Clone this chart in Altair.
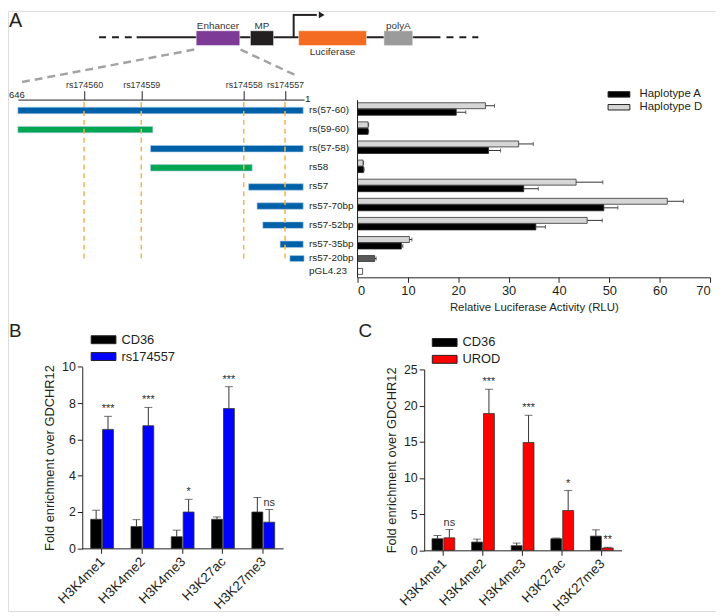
import altair as alt
import pandas as pd

W, H = 715, 606
MARGIN = 8
FONT = "Liberation Sans"
INK = "#231F20"


def px(v):
    return v - MARGIN


# ---------------- data ----------------
# Panel A: reporter construct (map units 0-100)
construct_names = ["Enhancer", "MP", "Luciferase", "polyA"]
construct_start = [25.6, 39.9, 52.6, 75.1]
construct_end = [37.1, 46.0, 70.5, 82.7]
construct_fill = ["#7D3A96", "#231F20", "#F36C21", "#9B9B9B"]
backbone_start = [9.9]
backbone_end = [90.0]
backbone_dash_start = [0.0, 91.6]
backbone_dash_end = [9.3, 100.0]
tss_pos = [51.3]
tss_arrow_end = [57.4]
tss_arrow_head = [58.7]
zoom_from = [25.1, 37.3]
zoom_to = [-20.6, 52.7]

# Panel A: enhancer fragments (bp, 646 -> 1)
fragments = ["rs(57-60)", "rs(59-60)", "rs(57-58)", "rs58", "rs57",
             "rs57-70bp", "rs57-52bp", "rs57-35bp"]
controls = ["rs57-20bp", "pGL4.23"]
frag_start = [646, 646, 347, 347, 126, 107, 94, 55]
frag_end = [3, 342, 3, 118, 3, 3, 3, 3]
frag_kind = ["rs174557", "no rs174557", "rs174557", "no rs174557",
             "rs174557", "rs174557", "rs174557", "rs174557"]
ctrl_frag_start = [33]
ctrl_frag_end = [1]
snp_names = ["rs174560", "rs174559", "rs174558", "rs174557"]
snp_pos = [497, 368, 137, 44]

# Panel A: luciferase activity
hapA = [19.6, 2.1, 26.0, 1.2, 33.0, 48.9, 35.4, 8.7]
hapA_err = [1.9, 0.1, 2.4, 0.1, 2.9, 2.8, 1.9, 0.3]
hapD = [25.4, 2.1, 32.0, 1.1, 43.4, 61.5, 45.6, 10.3]
hapD_err = [1.8, 0.1, 2.9, 0.1, 5.3, 3.2, 3.0, 0.5]
ctrl_val = [3.4, 1.0]
ctrl_err = [0.3, 0.0]

# Panels B / C: ChIP
histone = ["H3K4me1", "H3K4me2", "H3K4me3", "H3K27ac", "H3K27me3"]
b_cd36 = [1.6, 1.2, 0.64, 1.6, 2.0]
b_cd36_err = [0.5, 0.38, 0.36, 0.13, 0.8]
b_rs = [6.55, 6.75, 2.0, 7.7, 1.44]
b_rs_err = [0.72, 1.01, 0.7, 1.2, 0.7]
b_sig = ["***", "***", "*", "***", "ns"]
c_cd36 = [1.6, 1.14, 0.64, 1.6, 1.96]
c_cd36_err = [0.45, 0.41, 0.36, 0.1, 0.87]
c_urod = [1.73, 18.9, 14.9, 5.5, 0.32]
c_urod_err = [1.14, 3.36, 3.76, 2.76, 0.1]
c_sig = ["ns", "***", "***", "*", "**"]

# ---------------- helpers ----------------
layers = []


def rect_path(w, h):
    a = w / h
    return f"M{-a},-1L{a},-1L{a},1L{-a},1Z"


def letter(t, x, y, size):
    return alt.Chart(pd.DataFrame({"t": [t]})).mark_text(
        align="left", baseline="alphabetic", fontSize=size, font=FONT, color=INK
    ).encode(x=alt.value(px(x)), y=alt.value(px(y)), text="t:N")


layers += [letter("A", 9, 24, 20), letter("B", 9, 337, 19), letter("C", 362, 337, 19)]

# ---------------- construct ----------------
cx = lambda: alt.Scale(domain=[0, 100], range=[px(100), px(483)], nice=False, zero=False)
cons = pd.DataFrame({"name": construct_names, "s": construct_start, "e": construct_end})
cons["mid"] = (cons.s + cons.e) / 2

layers.append(alt.Chart(pd.DataFrame({"s": backbone_start, "e": backbone_end})).mark_rule(
    strokeWidth=2, color=INK).encode(
    x=alt.X("s:Q", scale=cx(), axis=None), x2="e:Q", y=alt.value(px(34.5))))
layers.append(alt.Chart(pd.DataFrame({"s": backbone_dash_start, "e": backbone_dash_end})).mark_rule(
    strokeWidth=2, color=INK, strokeDash=[7, 6]).encode(
    x=alt.X("s:Q", scale=cx(), axis=None), x2="e:Q", y=alt.value(px(34.5))))
layers.append(alt.Chart(cons).mark_rect(stroke="#ffffff", strokeWidth=0.5).encode(
    x=alt.X("s:Q", scale=cx(), axis=None), x2="e:Q",
    y=alt.value(px(28)), y2=alt.value(px(43)),
    color=alt.Color("name:N", scale=alt.Scale(domain=construct_names, range=construct_fill), legend=None)))
layers.append(alt.Chart(cons[cons.name != "Luciferase"]).mark_text(
    fontSize=10, font=FONT, color="#333333", baseline="middle").encode(
    x=alt.X("mid:Q", scale=cx(), axis=None), y=alt.value(px(23)), text="name:N"))
layers.append(alt.Chart(cons[cons.name == "Luciferase"]).mark_text(
    fontSize=10, font=FONT, color="#333333", baseline="middle").encode(
    x=alt.X("mid:Q", scale=cx(), axis=None), y=alt.value(px(49)), text="name:N"))
# transcription start arrow
tss = pd.DataFrame({"p": tss_pos, "e": tss_arrow_end, "h": tss_arrow_head})
layers.append(alt.Chart(tss).mark_rule(strokeWidth=2, color=INK).encode(
    x=alt.X("p:Q", scale=cx(), axis=None), y=alt.value(px(35)), y2=alt.value(px(11))))
layers.append(alt.Chart(tss).mark_rule(strokeWidth=2, color=INK).encode(
    x=alt.X("p:Q", scale=cx(), axis=None), x2="e:Q", y=alt.value(px(12))))
layers.append(alt.Chart(tss).mark_point(shape="triangle-right", filled=True, size=45, color=INK, opacity=1).encode(
    x=alt.X("h:Q", scale=cx(), axis=None), y=alt.value(px(12))))
# zoom lines
for f, t, y2 in zip(zoom_from, zoom_to, [80, 74.5]):
    layers.append(alt.Chart(pd.DataFrame({"f": [f], "t": [t]})).mark_rule(
        strokeWidth=2.5, color="#A3A3A3", strokeDash=[8, 5]).encode(
        x=alt.X("f:Q", scale=cx(), axis=None), x2="t:Q",
        y=alt.value(px(47)), y2=alt.value(px(y2))))

# ---------------- fragment diagram ----------------
bpx = lambda: alt.Scale(domain=[646, 1], range=[px(18), px(307)], nice=False, zero=False)
rows_sc = lambda: alt.Scale(type="band", domain=fragments, range=[px(97.35), px(251.75)],
                            paddingInner=0, paddingOuter=0)
ctrl_sc = lambda: alt.Scale(type="band", domain=controls, range=[px(251.5), px(277.5)],
                            paddingInner=0, paddingOuter=0)
BLUE = "#0061A9"
GREEN = "#00A651"
label_expr = " : ".join(f"datum.value == {p} ? '{n}'" for p, n in zip(snp_pos, snp_names)) + " : ''"

frag = pd.DataFrame({"row": fragments, "s": frag_start, "e": frag_end, "kind": frag_kind})
layers.append(alt.Chart(frag).mark_bar(height=6.5, yOffset=1.5, stroke="#A8C6E4", strokeWidth=0.6).encode(
    x=alt.X("s:Q", scale=bpx(), axis=alt.Axis(
        orient="top", offset=-px(97.5), values=snp_pos, labelExpr=label_expr, tickSize=9,
        labelPadding=1, labelFontSize=9, labelOverlap=False, labelFlush=False, title=None,
        grid=False, labelColor="#333333", domainColor=INK, tickColor=INK)),
    x2="e:Q",
    y=alt.Y("row:N", scale=rows_sc(), axis=None),
    color=alt.Color("kind:N", scale=alt.Scale(domain=["rs174557", "no rs174557"], range=[BLUE, GREEN]),
                    legend=None)))
cf = pd.DataFrame({"row": controls[:1], "s": ctrl_frag_start, "e": ctrl_frag_end})
layers.append(alt.Chart(cf).mark_bar(height=6, color=BLUE, stroke="#A8C6E4", strokeWidth=0.6).encode(
    x=alt.X("s:Q", scale=bpx(), axis=None), x2="e:Q",
    y=alt.Y("row:N", scale=ctrl_sc(), axis=None)))
# orange SNP guides
layers.append(alt.Chart(pd.DataFrame({"p": snp_pos})).mark_rule(
    strokeWidth=1.5, color="#F9B24C", strokeDash=[5, 4]).encode(
    x=alt.X("p:Q", scale=bpx(), axis=None), y=alt.value(px(100)), y2=alt.value(px(261))))
# end labels
layers.append(alt.Chart(pd.DataFrame({"p": [646], "t": ["646"]})).mark_text(
    align="left", baseline="alphabetic", fontSize=9.5, font=FONT, color=INK, dx=-9).encode(
    x=alt.X("p:Q", scale=bpx(), axis=None), y=alt.value(px(95.5)), text="t:N"))
layers.append(alt.Chart(pd.DataFrame({"p": [1], "t": ["1"]})).mark_text(
    align="left", baseline="middle", fontSize=10, font=FONT, color=INK, dx=1).encode(
    x=alt.X("p:Q", scale=bpx(), axis=None), y=alt.value(px(96.5)), text="t:N"))
# row labels
layers.append(alt.Chart(pd.DataFrame({"row": fragments})).mark_text(
    align="left", baseline="middle", fontSize=10, font=FONT, color=INK, dy=1).encode(
    x=alt.value(px(312)), y=alt.Y("row:N", scale=rows_sc(), axis=None), text="row:N"))
layers.append(alt.Chart(pd.DataFrame({"row": controls})).mark_text(
    align="left", baseline="middle", fontSize=10, font=FONT, color=INK).encode(
    x=alt.value(px(312)), y=alt.Y("row:N", scale=ctrl_sc(), axis=None), text="row:N"))

# ---------------- luciferase bars ----------------
rlu_x = lambda: alt.Scale(domain=[0, 70], range=[px(361), px(717)], nice=False)
hap_scale = lambda: alt.Scale(domain=["Haplotype A", "Haplotype D"], range=["#000000", "#D6D6D6"])
dfD = pd.DataFrame({"row": fragments, "v": hapD, "hi": [a + b for a, b in zip(hapD, hapD_err)],
                    "hap": "Haplotype D"})
dfA = pd.DataFrame({"row": fragments, "v": hapA, "hi": [a + b for a, b in zip(hapA, hapA_err)],
                    "hap": "Haplotype A"})
OFF = 3.3
layers.append(alt.Chart(dfD).mark_bar(height=6, yOffset=-OFF, stroke="#333333", strokeWidth=0.8).encode(
    x=alt.X("v:Q", scale=rlu_x(), axis=alt.Axis(
        orient="bottom", offset=px(277) - H, values=list(range(0, 71, 10)), tickSize=5,
        labelFontSize=13, labelPadding=2, title="Relative Luciferase Activity (RLU)",
        titleFontSize=11.5, titlePadding=4, grid=False)),
    y=alt.Y("row:N", scale=rows_sc(), axis=None),
    color=alt.Color("hap:N", scale=hap_scale(), legend=alt.Legend(
        orient="none", legendX=px(611), legendY=px(86.5), title=None, padding=0,
        symbolType=rect_path(22, 5.5), symbolSize=5.5 ** 2, symbolOffset=8.25,
        labelOffset=15, labelFontSize=11.5, rowPadding=0, symbolStrokeColor="#222222",
        symbolStrokeWidth=1, labelColor=INK))))
layers.append(alt.Chart(dfA).mark_bar(height=6, yOffset=OFF, stroke="#222222", strokeWidth=0.8).encode(
    x=alt.X("v:Q", scale=rlu_x(), axis=None),
    y=alt.Y("row:N", scale=rows_sc(), axis=None),
    color=alt.Color("hap:N", scale=hap_scale(), legend=None)))
for df, off in [(dfD, -OFF), (dfA, OFF)]:
    layers.append(alt.Chart(df).mark_rule(yOffset=off, color="#333333", strokeWidth=1).encode(
        x=alt.X("v:Q", scale=rlu_x(), axis=None), x2="hi:Q",
        y=alt.Y("row:N", scale=rows_sc(), axis=None)))
    layers.append(alt.Chart(df).mark_tick(yOffset=off, color="#333333", thickness=1, size=4).encode(
        x=alt.X("hi:Q", scale=rlu_x(), axis=None),
        y=alt.Y("row:N", scale=rows_sc(), axis=None)))
dfC = pd.DataFrame({"row": controls, "v": ctrl_val, "hi": [a + b for a, b in zip(ctrl_val, ctrl_err)]})
layers.append(alt.Chart(dfC).mark_bar(height=6, stroke="#333333", strokeWidth=0.8).encode(
    x=alt.X("v:Q", scale=rlu_x(), axis=None),
    y=alt.Y("row:N", scale=ctrl_sc(), axis=None),
    color=alt.Color("row:N", scale=alt.Scale(domain=controls, range=["#595959", "#FFFFFF"]), legend=None)))
dfCe = dfC[dfC.hi > dfC.v]
layers.append(alt.Chart(dfCe).mark_rule(color="#333333", strokeWidth=1).encode(
    x=alt.X("v:Q", scale=rlu_x(), axis=None), x2="hi:Q",
    y=alt.Y("row:N", scale=ctrl_sc(), axis=None)))
layers.append(alt.Chart(dfCe).mark_tick(color="#333333", thickness=1, size=4).encode(
    x=alt.X("hi:Q", scale=rlu_x(), axis=None),
    y=alt.Y("row:N", scale=ctrl_sc(), axis=None)))
layers.append(alt.Chart(pd.DataFrame({"v": [0]})).mark_rule(color=INK, strokeWidth=1).encode(
    x=alt.X("v:Q", scale=rlu_x(), axis=None), y=alt.value(px(98)), y2=alt.value(px(277.5))))


# ---------------- ChIP panels ----------------
def chip_panel(ctrl, ctrl_err, test, test_err, sig, test_name, test_color,
               x0, x1, y0_px, ymax_px, ymax, step, offs, legend_xy, axis_x):
    xs = lambda: alt.Scale(type="band", domain=histone, range=[px(x0), px(x1)],
                           paddingInner=0, paddingOuter=0)
    ys = lambda: alt.Scale(domain=[0, ymax], range=[px(y0_px), px(ymax_px)], nice=False)
    col = lambda: alt.Scale(domain=["CD36", test_name], range=["#000000", test_color])
    d1 = pd.DataFrame({"h": histone, "v": ctrl, "hi": [a + b for a, b in zip(ctrl, ctrl_err)],
                       "s": "CD36"})
    d2 = pd.DataFrame({"h": histone, "v": test, "hi": [a + b for a, b in zip(test, test_err)],
                       "s": test_name, "sig": sig})
    out = []
    out.append(alt.Chart(d1).mark_bar(width=11, xOffset=offs[0], stroke="#333333", strokeWidth=0.8).encode(
        x=alt.X("h:N", scale=xs(), axis=alt.Axis(
            orient="bottom", offset=px(y0_px) - H, tickSize=5, labelAngle=315, labelAlign="right",
            labelBaseline="middle", labelPadding=6, labelOffset=1, labelFontSize=13.5, title=None,
            grid=False)),
        y=alt.Y("v:Q", scale=ys(), axis=alt.Axis(
            orient="left", offset=-px(axis_x), values=list(range(0, ymax + 1, step)), tickSize=5,
            labelFontSize=12.5, labelPadding=2, title="Fold enrichment over GDCHR12",
            titleFontSize=13, titlePadding=5, grid=False)),
        color=alt.Color("s:N", scale=col(), legend=alt.Legend(
            orient="none", legendX=px(legend_xy[0]), legendY=px(legend_xy[1]), title=None, padding=0,
            symbolType=rect_path(25, 8), symbolSize=64, symbolOffset=8.5, labelOffset=11.5,
            labelFontSize=13, rowPadding=3, symbolStrokeColor="#222222", symbolStrokeWidth=1,
            labelColor=INK))))
    out.append(alt.Chart(d2).mark_bar(width=11, xOffset=offs[1], stroke="#333333", strokeWidth=0.8).encode(
        x=alt.X("h:N", scale=xs(), axis=None),
        y=alt.Y("v:Q", scale=ys(), axis=None),
        color=alt.Color("s:N", scale=col(), legend=None)))
    for d, o in [(d1, offs[0]), (d2, offs[1])]:
        out.append(alt.Chart(d).mark_rule(xOffset=o, color="#333333", strokeWidth=1).encode(
            x=alt.X("h:N", scale=xs(), axis=None),
            y=alt.Y("v:Q", scale=ys(), axis=None), y2="hi:Q"))
        out.append(alt.Chart(d).mark_tick(xOffset=o, color="#333333", thickness=1, size=8).encode(
            x=alt.X("h:N", scale=xs(), axis=None),
            y=alt.Y("hi:Q", scale=ys(), axis=None)))
    out.append(alt.Chart(d2).mark_text(xOffset=offs[1], dy=-2, baseline="bottom", fontSize=11,
                                       font=FONT, color="#333333").encode(
        x=alt.X("h:N", scale=xs(), axis=None),
        y=alt.Y("hi:Q", scale=ys(), axis=None), text="sig:N"))
    return out


layers += chip_panel(b_cd36, b_cd36_err, b_rs, b_rs_err, b_sig, "rs174557", "#0000FF",
                     82.35, 285.85, 550.7, 367.3, 10, 2, (-5.7, 6.3), (89.5, 333.5), 83)
layers += chip_panel(c_cd36, c_cd36_err, c_urod, c_urod_err, c_sig, "UROD", "#FF0000",
                     427.7, 627.7, 552.7, 370.0, 25, 5, (-6, 6), (434, 336.3), 428.3)

chart = alt.layer(*layers).resolve_scale(
    x="independent", y="independent", color="independent"
).properties(
    width=W, height=H, autosize=alt.AutoSizeParams(type="none"), padding=0
).configure_view(stroke=None).configure(font=FONT).configure_axis(
    domainColor=INK, tickColor=INK, labelColor=INK, titleColor=INK, titleFontWeight="normal",
    labelFont=FONT, titleFont=FONT, grid=False
).configure_legend(labelFont=FONT)

chart.save("out.html", embed_options={"renderer": "svg", "actions": False})
